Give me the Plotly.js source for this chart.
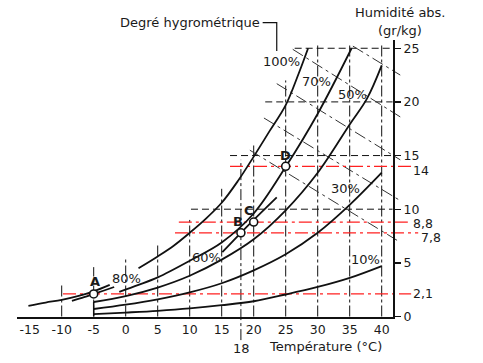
<!DOCTYPE html>
<html><head><meta charset="utf-8">
<script src="https://cdn.plot.ly/plotly-3.0.1.min.js"></script>
<style>body{margin:0;background:#fff}#chart{width:483px;height:363px}</style>
</head><body><div id="chart"></div>
<script>
// ---- data (T in °C, humidity in g/kg) ----
const rh100aT = [-15.2, -12.5, -10, -7.5, -5, -2.5];
const rh100aG = [1.0, 1.3, 1.55, 1.9, 2.35, 2.95];
const rh100bT = [2, 5, 7.5, 10, 12.5, 15, 17.5, 20, 22.5, 25, 27, 28.5];
const rh100bG = [4.5, 5.6, 6.6, 7.8, 9.1, 10.6, 12.6, 14.9, 17.3, 19.7, 22.6, 25.0];
const rh80T = [-8.4, -6.5, -5, -3.5, -1.8];
const rh80G = [1.45, 1.8, 2.1, 2.4, 2.75];
const rh70T = [-1, 2, 5, 10, 15, 20, 25, 30, 35.3];
const rh70G = [2.3, 2.95, 3.65, 5.2, 6.9, 9.6, 13.95, 18.9, 25.0];
const rh60T = [15.1, 18, 20, 23.6];
const rh60G = [6.0, 7.8, 9.0, 11.1];
const rh50T = [-5, 0, 5, 10, 15, 20, 25, 30, 35, 37.7, 40];
const rh50G = [1.35, 1.9, 2.7, 3.8, 5.3, 7.2, 9.9, 13.4, 17.9, 20.3, 23.4];
const rh30T = [-5, 0, 5, 10, 15, 20, 25, 30, 35, 40];
const rh30G = [0.7, 1.1, 1.6, 2.25, 3.1, 4.3, 5.8, 7.8, 10.4, 13.4];
const rh10T = [-5, 0, 5, 10, 15, 20, 25, 30, 35, 40];
const rh10G = [0.23, 0.37, 0.53, 0.75, 1.05, 1.42, 2.05, 2.75, 3.6, 4.7];

const vLineT   = [-10, -5, 0, 5, 10, 15, 20, 25, 30, 35, 40];
const vLineTop = [3.1, 4.6, 5.5, 6.8, 9.0, 11.9, 16.1, 22.0, 25.3, 25.3, 25.4];
const line18T = 18, line18Top = 14.6, line18Bottom = -2.2;

const hLineG     = [10, 15, 20, 25];
const hLineStart = [10.2, 16.3, 21.8, 26.4];
const axisRightT = 41.7;

const redG     = [14, 8.8, 7.8, 2.1];
const redStart = [16.3, 8.3, 7.7, -9.8];
const redEnd   = [44.6, 44.6, 45.7, 44.6];
const redLabels = ['14', '8,8', '7,8', '2,1'];
const redLabelY = [13.65, 8.7, 7.35, 2.1];

const diagT0 = [35.5, 26.1, 23.6, 21.6, 19.4];
const diagG0 = [25.2, 24.9, 21.7, 18.5, 15.5];
const diagT1 = [42.9, 42.9, 42.9, 42.9, 42.4];
const diagG1 = [22.5, 18.6, 14.6, 10.8, 7.1];

const pointNames = ['A', 'B', 'C', 'D'];
const pointT = [-5, 18, 20, 25];
const pointG = [2.1, 7.8, 8.8, 14];
const pointLabelT = [-4.8, 17.6, 19.3, 24.9];
const pointLabelG = [3.25, 8.85, 9.9, 15.05];

const rhLabels = ['100%', '80%', '70%', '60%', '50%', '30%', '10%'];
const rhLabelT = [24.3, 0.2, 29.8, 12.7, 35.4, 34.3, 37.4];
const rhLabelG = [23.75, 3.56, 21.9, 5.5, 20.65, 11.95, 5.35];

const xTicks = [-15, -10, -5, 0, 5, 10, 15, 20, 25, 30, 35, 40];
const yTicks = [0, 5, 10, 15, 20, 25];

// ---- build traces ----
const FONT = 'DejaVu Sans, Verdana, sans-serif';
const traces = [];
function line(x, y, color, width, dash, shape) {
  traces.push({x: x, y: y, type: 'scatter', mode: 'lines', hoverinfo: 'skip', showlegend: false,
    line: {color: color, width: width, dash: dash || 'solid', shape: shape || 'linear', smoothing: 1}});
}
const curves = [[rh100aT, rh100aG], [rh100bT, rh100bG], [rh80T, rh80G], [rh70T, rh70G],
                [rh60T, rh60G], [rh50T, rh50G], [rh30T, rh30G], [rh10T, rh10G]];

vLineT.forEach((t, i) => line([t, t], [0, vLineTop[i]], '#111', 1, '11px,3px,3px,3px'));
line([line18T, line18T], [line18Bottom, line18Top], '#111', 1, '11px,3px,3px,3px');
hLineG.forEach((g, i) => line([hLineStart[i], axisRightT], [g, g], '#111', 1, '7px,4px'));
diagT0.forEach((t, i) => line([t, diagT1[i]], [diagG0[i], diagG1[i]], '#333', 1, '12px,4px,3px,4px'));
redG.forEach((g, i) => line([redStart[i], redEnd[i]], [g, g], '#ff2020', 1.2, '13px,4px,3px,4px'));
line([-5, -5], [0, rh50G[0]], '#111', 1.5);
curves.forEach(c => line(c[0], c[1], '#111', 1.8, 'solid', 'spline'));
line([21.4, 23.6, 23.6], [27.38, 27.38, 24.75], '#111', 1.2);

traces.push({x: pointT, y: pointG, type: 'scatter', mode: 'markers', hoverinfo: 'skip', showlegend: false,
  marker: {symbol: 'circle', size: 8, color: '#fff', line: {color: '#111', width: 1.6}}});
traces.push({x: [0], y: [0], xaxis: 'x2', yaxis: 'y2', type: 'scatter', mode: 'markers',
  marker: {opacity: 0}, hoverinfo: 'skip', showlegend: false});

const ann = [];
function txt(x, y, text, opts) {
  ann.push(Object.assign({x: x, y: y, xref: 'x', yref: 'y', text: text, showarrow: false,
    font: {family: FONT, size: 13, color: '#1a1a1a'}, xanchor: 'center', yanchor: 'middle'}, opts || {}));
}
rhLabels.forEach((s, i) => txt(rhLabelT[i], rhLabelG[i], s));
pointNames.forEach((s, i) => txt(pointLabelT[i], pointLabelG[i], '<b>' + s + '</b>'));
redLabels.forEach((s, i) => txt(redEnd[i] + 0.05, redLabelY[i], s,
  {xanchor: 'left', font: {family: FONT, size: 12.5, color: '#1a1a1a'}}));
txt(21.35, 27.38, 'Degré hygrométrique', {xanchor: 'right'});
txt(42.86, 28.35, 'Humidité abs.');
txt(42.86, 26.7, '(gr/kg)');
txt(31.14, -2.84, 'Température (°C)');
txt(18.17, -2.94, '18');

const layout = {
  width: 483, height: 363, autosize: false,
  margin: {l: 0, r: 0, t: 0, b: 0, pad: 0},
  paper_bgcolor: '#fff', plot_bgcolor: 'rgba(0,0,0,0)',
  showlegend: false,
  xaxis: {range: [-19.641, 55.828], visible: false, fixedrange: true},
  yaxis: {range: [-4.334, 29.497], visible: false, fixedrange: true},
  xaxis2: {domain: [17 / 483, 393 / 483], range: [-16.984, 41.766], anchor: 'y2',
    showline: true, linewidth: 2, linecolor: '#111', ticks: '', showgrid: false, zeroline: false,
    tickmode: 'array', tickvals: xTicks, ticktext: xTicks.map(String),
    tickfont: {family: FONT, size: 12.5, color: '#1a1a1a'}, fixedrange: true},
  yaxis2: {domain: [(363 - 316.5) / 363, (363 - 40) / 363], range: [0, 25.769], anchor: 'x2', side: 'right',
    showline: true, linewidth: 2, linecolor: '#111', ticks: 'outside', ticklen: 6, tickwidth: 1.3, tickcolor: '#111',
    showgrid: false, zeroline: false, tickmode: 'array', tickvals: yTicks,
    tickfont: {family: FONT, size: 12.5, color: '#1a1a1a'}, fixedrange: true},
  annotations: ann
};
Plotly.newPlot('chart', traces, layout, {displayModeBar: false, staticPlot: true});
</script></body></html>
